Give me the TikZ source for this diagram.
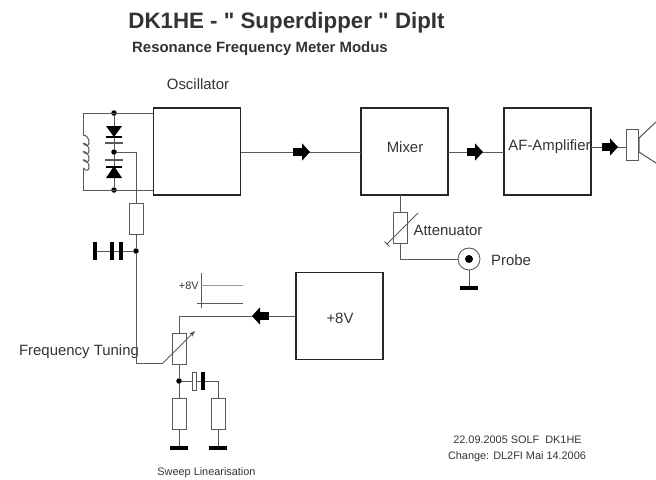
\documentclass[tikz,border=0pt]{standalone}
\usepackage{fontspec}
\setmainfont{Liberation Sans}
\newfontfamily\titlefont{Liberation Sans}
\usetikzlibrary{arrows.meta,positioning,shapes.geometric}
\colorlet{wire}{black!65}
\colorlet{ink}{black!80}
\begin{document}
\begin{tikzpicture}[
  x=0.02cm, y=-0.02cm,
  every node/.style={text=ink, inner sep=0pt},
  box/.style={draw=black!85, line width=0.85pt, minimum width=1.74cm, minimum height=1.74cm, inner sep=0pt},
  res/.style={draw=wire, line width=0.5pt, minimum width=0.28cm, minimum height=0.62cm, fill=white},
  wr/.style={draw=wire, line width=0.5pt},
  dot/.style={circle, fill=black, minimum size=0.11cm},
  gnd/.style={draw=black, line width=0.8mm},
  plate/.style={draw=black, line width=0.9mm},
  flow/.style={draw=black, line width=1.6mm, -{Triangle[length=1.6mm, width=3.4mm]}},
  lbl/.style={font=\fontsize{8.5}{10}\selectfont},
  tiny/.style={font=\fontsize{6.2}{8}\selectfont}
]
\useasboundingbox (0,0) rectangle (656,480);
\node[font=\titlefont\bfseries\fontsize{12.7}{15}\selectfont] (title) at (286.5,22.5) {DK1HE - " Superdipper " DipIt};
\node[font=\bfseries\fontsize{8.5}{10}\selectfont] (subtitle) at (260,48.5) {Resonance Frequency Meter Modus};

\node[box] (osc) at (197,151.5) {};
\node[box] (mixer) at (404.5,151.5) {};
\node[box] (amp) at (547.5,151.5) {};
\node[box] (supply) at (339.5,316) {};
\node[lbl] (osclabel) at (198,84) {Oscillator};
\node[lbl] (mixlabel) at (405,147) {Mixer};
\node[lbl] (amplabel) at (549.5,147) {AF-Amplifier};
\node[lbl] (supplylabel) at (340,318) {+8V};
\node[lbl] (attlabel) at (448,230) {Attenuator};
\node[lbl] (probelabel) at (511,260) {Probe};
\node[lbl] (tunelabel) at (79,352) {Frequency Tuning};
\node[tiny] (sweeplabel) at (206.5,473) {Sweep Linearisation};
\node[tiny] (datelabel) at (517.5,440) {22.09.2005 SOLF\ \ DK1HE};
\node[tiny] (changelabel) at (517,457) {Change: DL2FI Mai 14.2006};

\coordinate (lt) at (83,113);
\coordinate (lb) at (83,190);
\coordinate (coiltop) at (83,135);
\coordinate (coilend) at (83,168);
\coordinate (oscl1) at (osc.west |- lt);
\coordinate (oscl2) at (osc.west |- lb);
\node[dot] (dtop) at (114,113) {};
\node[dot] (dmid) at (114,152) {};
\node[dot] (dbot) at (114,190) {};
\draw[wr] (oscl1) -- (lt) -- (coiltop);
\draw[wr] (coilend) -- (lb) -- (oscl2);
\foreach \y in {135,143.25,151.5,159.75}
  \draw[wr, line width=0.6pt] (83,\y) .. controls +(8,0) and +(8,8.25) .. +(0,8.25);
\draw[wr] (dtop) -- (dmid) -- (dbot);
\fill[black] (106,126) -- (122,126) -- (114,137) -- cycle;
\fill[black] (106,178) -- (122,178) -- (114,166) -- cycle;
\draw[draw=black, line width=0.5mm] (106,137) -- (122,137);
\draw[draw=black, line width=0.5mm] (106,167) -- (122,167);
\draw[draw=wire, line width=0.4mm] (105,143) -- (123,143);
\draw[draw=wire, line width=0.4mm] (105,160) -- (123,160);

\node[res] (rtune) at (136,218.5) {};
\node[dot] (dcap) at (136,251) {};
\coordinate (rbend) at (rtune.north |- dmid);
\coordinate (tunecorner) at (136,363);
\coordinate (tunewiper) at (163,363);
\draw[wr] (dmid) -- (rbend) -- (rtune.north);
\draw[wr] (rtune.south) -- (dcap) -- (tunecorner) -- (tunewiper);
\coordinate (capg) at (95,251);
\draw[wr] (dcap) -- (capg);
\draw[plate] (95,242) -- (95,260);
\draw[plate] (112,242) -- (112,260);
\draw[plate] (121,242) -- (121,260);

\coordinate (oscout) at (241,152);
\coordinate (mixin) at (361,152);
\draw[wr] (oscout) -- (mixin);
\coordinate (a1s) at (293,152);
\coordinate (a1e) at (310,152);
\draw[flow] (a1s) -- (a1e);
\coordinate (mixout) at (448,152);
\coordinate (ampin) at (504,152);
\draw[wr] (mixout) -- (ampin);
\coordinate (a2s) at (467,152);
\coordinate (a2e) at (483,152);
\draw[flow] (a2s) -- (a2e);

\node[res, minimum width=0.24cm, minimum height=0.62cm] (spk) at (632,145) {};
\coordinate (ampout) at (591,147);
\coordinate (spkin) at (626,147);
\draw[wr] (ampout) -- (spkin);
\coordinate (a3s) at (602,147);
\coordinate (a3e) at (618,147);
\draw[flow] (a3s) -- (a3e);
\draw[wr, line width=0.6pt] (639,138) -- (656,122) (639,152) -- (656,163) (639,138) -- (639,152);

\node[res] (ratt) at (400,228) {};
\node[draw=wire, circle, line width=0.5pt, minimum size=0.44cm, fill=white] (probe) at (469,259) {};
\node[dot, minimum size=0.16cm] (probepin) at (469,259) {};
\coordinate (probeg) at (469,288);
\coordinate (attcorner) at (400,259);
\coordinate (mixbot) at (400,195);
\draw[wr] (mixbot) -- (ratt.north);
\draw[wr] (ratt.south) -- (attcorner) -- (probe.west);
\draw[wr] (probe.south) -- (probeg);
\draw[gnd] (460,288) -- (478,288);
\draw[wr] (387,244) -- (418,213);
\draw[wr] (384.5,241.5) -- (389.5,246.5);

\node[res] (pot) at (179,348.5) {};
\coordinate (pottop) at (179,316);
\draw[wr] (supply.west) -- (pottop) -- (pot.north);
\coordinate (a4s) at (269,316);
\coordinate (a4e) at (252,316);
\draw[flow] (a4s) -- (a4e);
\draw[wr, -{Stealth[length=1.2mm,width=0.9mm]}] (tunewiper) -- (195,331);

\node[dot] (dpot) at (179,381) {};
\node[res] (r1) at (179,413.5) {};
\node[res] (r2) at (218,413.5) {};
\coordinate (g1) at (179,448);
\coordinate (g2) at (218,448);
\coordinate (capcorner) at (218,381);
\draw[wr] (pot.south) -- (dpot) -- (r1.north);
\draw[wr] (r1.south) -- (g1);
\draw[wr] (dpot) -- (capcorner) -- (r2.north);
\draw[wr] (r2.south) -- (g2);
\draw[gnd] (170,448) -- (188,448);
\draw[gnd] (209,448) -- (227,448);
\node[res, minimum width=0.09cm, minimum height=0.36cm] (capo) at (194.5,381) {};
\draw[plate, line width=0.8mm] (203,372) -- (203,390);

\node[tiny, anchor=east] (v8label) at (199,286) {+8V};
\coordinate (axtop) at (201,273);
\coordinate (axbot) at (201,308);
\draw[wr] (axtop) -- (axbot);
\draw[draw=black!40, line width=0.5pt] (201,285) -- (243,285);
\draw[wr] (197,303) -- (243,303);
\end{tikzpicture}
\end{document}
